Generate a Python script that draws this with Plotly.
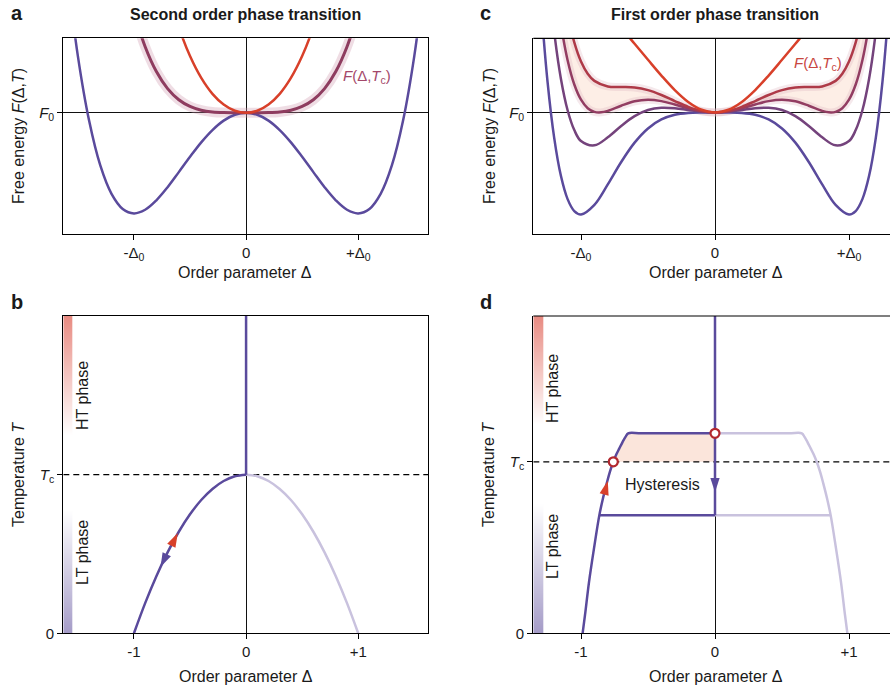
import plotly.graph_objects as go

FONT = "Liberation Sans, Arial, Helvetica, sans-serif"
W, H = 890, 688

PURPLE = "#5a4a9c"
LIGHT_PURPLE = "#c9c2de"
RED = "#d8402a"
MAUVE = "#8e3c5f"
CIRCLE_RED = "#b3282f"
TEXT = "#1a1a1a"

# ---------------- data ----------------
# Panel a: second-order transition, free energy F - F0 vs order parameter (units of Δ0).
# Curves are even in Δ, so only the Δ >= 0 half is listed.
A_DELTA_LOW = [0.0, 0.1, 0.2, 0.3, 0.4, 0.5, 0.6, 0.7, 0.8, 0.9, 1.0, 1.1, 1.2, 1.3, 1.4, 1.5, 1.6]
A_F_LOW = [0.0, -0.020, -0.078, -0.172, -0.294, -0.438, -0.590, -0.740, -0.870, -0.964,
           -1.000, -0.956, -0.806, -0.524, -0.078, 0.563, 1.434]
A_DELTA_TC = [0.0, 0.1, 0.2, 0.3, 0.4, 0.5, 0.6, 0.7, 0.8, 0.9, 1.0]
A_F_TC = [0.0, 0.0001, 0.0016, 0.0081, 0.0256, 0.0625, 0.1296, 0.2401, 0.4096, 0.6561, 1.0]
A_DELTA_HIGH = [0.0, 0.1, 0.2, 0.3, 0.4, 0.5, 0.6, 0.7]
A_F_HIGH = [0.0, 0.020, 0.082, 0.188, 0.346, 0.563, 0.850, 1.220]

# Panel c: first-order transition, five temperatures from low (1) to high (5).
C_DELTA_1 = [0.0, 0.1, 0.2, 0.3, 0.4, 0.5, 0.6, 0.7, 0.8, 0.9, 1.0, 1.05, 1.1, 1.15, 1.2, 1.25, 1.3]
C_F_1 = [0.0, -0.0003, -0.0047, -0.0228, -0.0686, -0.1563, -0.2955, -0.4850, -0.7045, -0.9054,
         -1.0, -0.9663, -0.8492, -0.6209, -0.2488, 0.3052, 1.0853]
C_DELTA_2 = [0.0, 0.1, 0.2, 0.3, 0.4, 0.5, 0.6, 0.7, 0.8, 0.9, 1.0, 1.05, 1.1, 1.15, 1.2, 1.25]
C_F_2 = [0.0, 0.0069, 0.0241, 0.0420, 0.0466, 0.0238, -0.0363, -0.1322, -0.2437, -0.3222,
         -0.2800, -0.1725, 0.0220, 0.3313, 0.7880, 1.4302]
C_DELTA_3 = [0.0, 0.1, 0.2, 0.3, 0.4, 0.5, 0.6, 0.7, 0.8, 0.85, 0.9, 0.95, 1.0, 1.05, 1.1, 1.15, 1.2]
C_F_3 = [0.0, 0.0110, 0.0403, 0.0784, 0.1114, 0.1250, 0.1095, 0.0663, 0.0155, 0.0011, 0.0058,
         0.0420, 0.1250, 0.2740, 0.5121, 0.8669, 1.3712]
C_DELTA_4 = [0.0, 0.1, 0.2, 0.3, 0.4, 0.5, 0.6, 0.7, 0.8, 0.9, 0.95, 1.0, 1.05, 1.1, 1.15]
C_F_4 = [0.0, 0.0147, 0.0553, 0.1122, 0.1714, 0.2188, 0.2445, 0.2500, 0.2555, 0.3096, 0.3804,
         0.5000, 0.6874, 0.9658, 1.3629]
C_DELTA_5 = [0.0, 0.1, 0.2, 0.3, 0.4, 0.5, 0.6, 0.7, 0.8]
C_F_5 = [0.0, 0.0266, 0.1029, 0.2193, 0.3618, 0.5163, 0.6729, 0.8331, 1.0171]
C_COLORS = ["#5a4a9c", "#74437c", "#923d62", "#ae3a48", "#d8402a"]

# Panel b: equilibrium order parameter vs temperature (second order), Δ <= 0 branch.
B_DELTA = [-1.0, -0.9, -0.8, -0.7, -0.6, -0.5, -0.4, -0.3, -0.2, -0.1, 0.0]
B_T = [0.0, 0.19, 0.36, 0.51, 0.64, 0.75, 0.84, 0.91, 0.96, 0.99, 1.0]
B_ARROW_UP = (-0.609, 0.632)
B_ARROW_DOWN = (-0.763, 0.418)

# Panel d: first-order branch with hysteresis, Δ <= 0 branch.
D_DELTA = [-0.988, -0.970, -0.940, -0.903, -0.863, -0.835, -0.808, -0.785, -0.759, -0.735,
           -0.714, -0.690, -0.668, -0.648, -0.55]
D_T = [0.0, 0.107, 0.300, 0.495, 0.689, 0.790, 0.874, 0.940, 1.000, 1.045, 1.078, 1.115,
       1.145, 1.166, 1.166]
D_T_UP = 1.166      # superheating limit
D_T_LOW = 0.689     # supercooling limit
D_DELTA_LOW_END = -0.863
D_CIRCLES_DELTA = [-0.759, 0.0]
D_CIRCLES_T = [1.0, 1.166]
D_ARROW_UP = (-0.80, 0.89)
D_ARROW_DOWN = (0.0, 0.822)

TC = 1.0

# axis ranges
A_XR = [-1.63, 1.625]
A_YR = [-1.2, 0.74]
C_XR = [-1.356, 1.306]
C_YR = [-1.186, 0.727]
B_YR = [0.0, 2.0]
D_YR = [0.0, 1.85]


def sym(d, f):
    """Even curve from its Δ >= 0 half."""
    xs = [-v for v in reversed(d[1:])] + list(d)
    ys = list(reversed(f[1:])) + list(f)
    return xs, ys


def px_x(v):
    return v / W


def px_y(v):
    return 1 - v / H


def it(s, size):
    """Italic run with an explicit size."""
    return f'<span style="font-style:italic;font-size:{size}px">{s}</span>'


fig = go.Figure()


def line(xs, ys, color, width, ax, shape="spline", **kw):
    fig.add_trace(go.Scatter(x=xs, y=ys, mode="lines", xaxis=ax[0], yaxis=ax[1],
                             line=dict(color=color, width=width, shape=shape),
                             hoverinfo="skip", showlegend=False, **kw))


def arrow(pt, angle, color, ax):
    fig.add_trace(go.Scatter(x=[pt[0]], y=[pt[1]], mode="markers", xaxis=ax[0], yaxis=ax[1],
                             marker=dict(symbol="arrow", size=15, angle=angle, color=color,
                                         line=dict(width=0)),
                             hoverinfo="skip", showlegend=False))


AX_A = ("x", "y")
AX_C = ("x2", "y2")
AX_B = ("x3", "y3")
AX_D = ("x4", "y4")

# ---------- panel a ----------
xs, ys = sym(A_DELTA_TC, A_F_TC)
line(xs, ys, "rgba(205,150,170,0.32)", 10, AX_A)
line(*sym(A_DELTA_LOW, A_F_LOW), PURPLE, 2.5, AX_A)
line(xs, ys, MAUVE, 3, AX_A)
line(*sym(A_DELTA_HIGH, A_F_HIGH), RED, 2.5, AX_A)

# ---------- panel c ----------
x3, y3 = sym(C_DELTA_3, C_F_3)
x4, y4 = sym(C_DELTA_4, C_F_4)
line(x3, y3, "rgba(0,0,0,0)", 0, AX_C)
line(x4, y4, "rgba(0,0,0,0)", 0, AX_C, fill="tonexty", fillcolor="rgba(251,226,214,0.6)")
line(x3, y3, "rgba(220,175,185,0.28)", 8, AX_C)
line(x4, y4, "rgba(220,175,185,0.28)", 8, AX_C)
for (d, f), col in zip([(C_DELTA_1, C_F_1), (C_DELTA_2, C_F_2), (C_DELTA_3, C_F_3),
                        (C_DELTA_4, C_F_4), (C_DELTA_5, C_F_5)], C_COLORS):
    line(*sym(d, f), col, 2.5, AX_C)


# ---------- phase bars (b, d) ----------
def phase_bar(ax, xr, yr, width_units, white_lo, white_hi):
    x0 = xr[0]
    span = yr[1] - yr[0]
    mid = (yr[0] + yr[1]) / 2
    fig.add_trace(go.Heatmap(
        x=[x0 + width_units * 0.25, x0 + width_units * 0.75],
        y=[yr[0], mid, yr[1]],
        z=[[yr[0], yr[0]], [mid, mid], [yr[1], yr[1]]],
        zmin=yr[0], zmax=yr[1], zsmooth="best", showscale=False, hoverinfo="skip",
        colorscale=[[0, "#a49bc7"], [white_lo / span, "#ffffff"],
                    [white_hi / span, "#ffffff"], [1, "#e88b82"]],
        xaxis=ax[0], yaxis=ax[1]))


phase_bar(AX_B, A_XR, B_YR, 9 / 112.3, 0.78, 1.25)
phase_bar(AX_D, C_XR, D_YR, 10 / 134.0, 0.76, 1.22)

# ---------- panel b ----------
line(A_XR, [TC, TC], "black", 1.2, AX_B, shape="linear")
fig.data[-1].line.dash = "6px,4px"
rx = [-v for v in reversed(B_DELTA)]
ry = list(reversed(B_T))
line(rx, ry, LIGHT_PURPLE, 2.5, AX_B)
line(B_DELTA, B_T, PURPLE, 2.5, AX_B)
line([0.0, 0.0], [TC, B_YR[1]], PURPLE, 2.5, AX_B, shape="linear")
arrow(B_ARROW_UP, 27, RED, AX_B)
arrow(B_ARROW_DOWN, 206, PURPLE, AX_B)

# ---------- panel d ----------
# superheating region above Tc
fx = [d for d, t in zip(D_DELTA, D_T) if t >= TC] + [0.0, 0.0]
fy = [t for t in D_T if t >= TC] + [D_T_UP, TC]
fig.add_trace(go.Scatter(x=fx, y=fy, mode="lines", fill="toself", fillcolor="#fbe5db",
                         line=dict(width=0), xaxis="x4", yaxis="y4", hoverinfo="skip", showlegend=False))
line(C_XR, [TC, TC], "black", 1.2, AX_D, shape="linear")
fig.data[-1].line.dash = "6px,4px"
# mirrored (Δ > 0) branch, drawn light
lx = [0.0] + [-v for v in reversed(D_DELTA)]
ly = [D_T_UP] + list(reversed(D_T))
line(lx, ly, LIGHT_PURPLE, 2.5, AX_D)
line([0.0, -D_DELTA_LOW_END], [D_T_LOW, D_T_LOW], LIGHT_PURPLE, 2.5, AX_D, shape="linear")
# stable/metastable path for Δ < 0
line(D_DELTA + [0.0], D_T + [D_T_UP], PURPLE, 2.5, AX_D)
line([D_DELTA_LOW_END, 0.0], [D_T_LOW, D_T_LOW], PURPLE, 2.5, AX_D, shape="linear")
line([0.0, 0.0], [D_YR[1], D_T_LOW], PURPLE, 2.5, AX_D, shape="linear")
arrow(D_ARROW_UP, 15, RED, AX_D)
arrow(D_ARROW_DOWN, 180, PURPLE, AX_D)
fig.add_trace(go.Scatter(x=D_CIRCLES_DELTA, y=D_CIRCLES_T, mode="markers", xaxis="x4", yaxis="y4",
                         marker=dict(symbol="circle", size=9, color="white",
                                     line=dict(color=CIRCLE_RED, width=2.2)),
                         hoverinfo="skip", showlegend=False))

# ---------- axes ----------
XA = [px_x(63.3), px_x(428.3)]
XC = [px_x(533.3), 1.0]
YTOP = [px_y(233.5), px_y(38.3)]
YBOT = [px_y(633.3), px_y(316.0)]

TICK_SIZE = 15
common = dict(ticks="outside", ticklen=5, tickwidth=1, tickcolor="black", showline=True,
              linecolor="black", linewidth=1.2, showgrid=False, zeroline=True,
              zerolinecolor="#111111", zerolinewidth=1.1, fixedrange=True, automargin=False,
              tickfont=dict(family=FONT, size=TICK_SIZE, color=TEXT))

d0_text = ["-Δ<sub>0</sub>", "0", "+Δ<sub>0</sub>"]
num_text = ["-1", "0", "+1"]
f0_text = [it("F", TICK_SIZE) + "<sub>0</sub>"]
tc_text = ["0", it("T", TICK_SIZE) + "<sub>c</sub>"]

fig.update_layout(
    xaxis=dict(domain=XA, range=A_XR, anchor="y", tickvals=[-1, 0, 1], ticktext=d0_text, mirror=True, **common),
    yaxis=dict(domain=YTOP, range=A_YR, anchor="x", tickvals=[0], ticktext=f0_text, mirror=True, **common),
    xaxis2=dict(domain=XC, range=C_XR, anchor="y2", tickvals=[-1, 0, 1], ticktext=d0_text, **common),
    yaxis2=dict(domain=YTOP, range=C_YR, anchor="x2", tickvals=[0], ticktext=f0_text, **common),
    xaxis3=dict(domain=XA, range=A_XR, anchor="y3", tickvals=[-1, 0, 1], ticktext=num_text, mirror=True, **common),
    yaxis3=dict(domain=YBOT, range=B_YR, anchor="x3", tickvals=[0, TC], ticktext=tc_text, mirror=True,
                **{**common, "zeroline": False}),
    xaxis4=dict(domain=XC, range=C_XR, anchor="y4", tickvals=[-1, 0, 1], ticktext=num_text, **common),
    yaxis4=dict(domain=YBOT, range=D_YR, anchor="x4", tickvals=[0, TC], ticktext=tc_text,
                **{**common, "zeroline": False}),
)

# top frame lines for the right-hand panels
shapes = []
for xa, ya in [("x2", "y2"), ("x4", "y4")]:
    shapes.append(dict(type="line", xref=f"{xa} domain", yref=f"{ya} domain", x0=0, x1=1, y0=1, y1=1,
                       line=dict(color="black", width=1.2), layer="above"))


def ann(text, x, y, size=16, bold=False, angle=0, color=TEXT, xanchor="center"):
    return dict(text=text, x=px_x(x), y=px_y(y), xref="paper", yref="paper", showarrow=False,
                textangle=angle, xanchor=xanchor, yanchor="middle",
                font=dict(family=FONT, size=size, color=color, weight="bold" if bold else "normal"))


energy_title = "Free energy " + it("F", 16) + "(Δ," + it("T", 16) + ")"
temp_title = "Temperature " + it("T", 16)
f_tc = it("F", 15) + "(Δ," + it("T", 15) + "<sub>c</sub>)"

annotations = [
    ann("a", 17, 13, size=20, bold=True),
    ann("b", 17, 302, size=20, bold=True),
    ann("c", 485, 13, size=20, bold=True),
    ann("d", 486, 302, size=20, bold=True),
    ann("Second order phase transition", 245, 14, bold=True),
    ann("First order phase transition", 715, 14, bold=True),
    ann(energy_title, 18, 136, angle=-90),
    ann(energy_title, 489, 136, angle=-90),
    ann(temp_title, 18, 475, angle=-90),
    ann(temp_title, 488, 475, angle=-90),
    ann("Order parameter Δ", 245, 273),
    ann("Order parameter Δ", 716, 273),
    ann("Order parameter Δ", 246, 676),
    ann("Order parameter Δ", 716, 676),
    ann(f_tc, 367, 77, size=15, color="#a4486a"),
    ann(f_tc, 818, 63, size=15, color="#c8473f"),
    ann("HT phase", 82, 396, angle=-90),
    ann("LT phase", 82, 553, angle=-90),
    ann("HT phase", 552, 389, angle=-90),
    ann("LT phase", 552, 547, angle=-90),
    ann("Hysteresis", 662, 484),
]

fig.update_layout(
    width=W, height=H, margin=dict(l=0, r=0, t=0, b=0, autoexpand=False),
    paper_bgcolor="white", plot_bgcolor="white",
    showlegend=False, hovermode=False,
    shapes=shapes, annotations=annotations,
    font=dict(family=FONT, color=TEXT),
)

fig.write_html("out.html")
